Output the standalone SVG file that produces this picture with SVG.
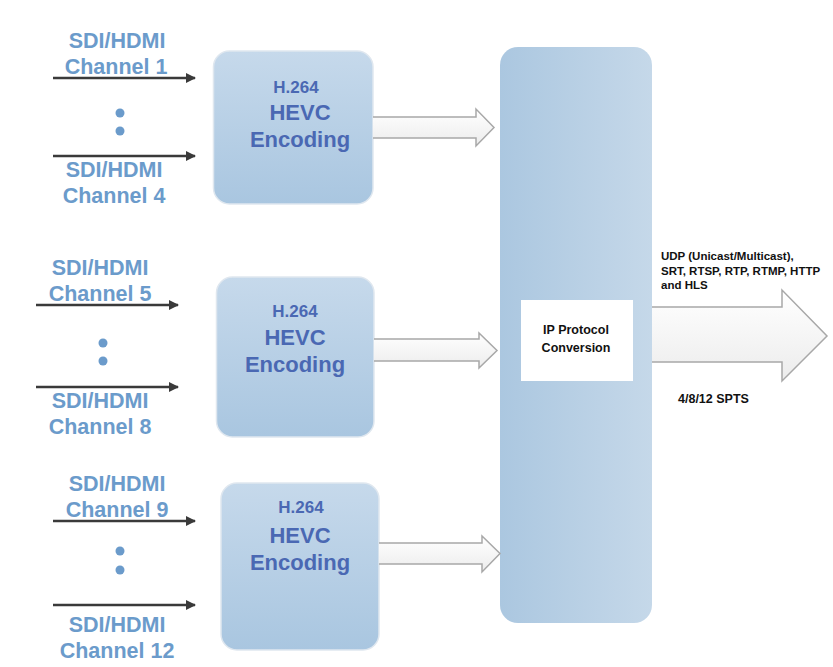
<svg xmlns="http://www.w3.org/2000/svg" width="833" height="667" viewBox="0 0 833 667">
<defs>
<linearGradient id="encGrad" x1="0" y1="0" x2="0" y2="1">
<stop offset="0" stop-color="#c6d9eb"/>
<stop offset="1" stop-color="#a9c6e0"/>
</linearGradient>
<linearGradient id="ipGrad" x1="0" y1="0" x2="1" y2="0">
<stop offset="0" stop-color="#abc7e0"/>
<stop offset="1" stop-color="#c5d8e9"/>
</linearGradient>
<linearGradient id="arrGrad" x1="0" y1="0" x2="0" y2="1">
<stop offset="0" stop-color="#ffffff"/>
<stop offset="1" stop-color="#ececec"/>
</linearGradient>
<marker id="ah" markerWidth="10" markerHeight="10" refX="9" refY="5" orient="auto" markerUnits="userSpaceOnUse">
<path d="M0,0 L10,5 L0,10 Z" fill="#3a3a3a"/>
</marker>
</defs>
<style>
.lbl{font-family:"Liberation Sans",Arial,sans-serif;font-weight:bold;font-size:21.5px;fill:#6b9bcb;text-anchor:middle}
.enc{fill:url(#encGrad);stroke:#dfe7ef;stroke-width:1.5}
.t1{font-family:"Liberation Sans",Arial,sans-serif;font-weight:bold;font-size:17px;fill:#4a68b3;text-anchor:middle}
.t2{font-family:"Liberation Sans",Arial,sans-serif;font-weight:bold;font-size:22px;fill:#4a68b3;text-anchor:middle}
.in{stroke:#3a3a3a;stroke-width:2.5;fill:none;marker-end:url(#ah)}
.dot{fill:#6b9bcb}
.fat{fill:url(#arrGrad);stroke:#a8a8a8;stroke-width:1.5;stroke-linejoin:miter}
.sm{font-family:"Liberation Sans",Arial,sans-serif;font-weight:bold;font-size:11.5px;fill:#111}
.sp{font-family:"Liberation Sans",Arial,sans-serif;font-weight:bold;font-size:12.5px;fill:#111}
.ip{font-family:"Liberation Sans",Arial,sans-serif;font-weight:bold;font-size:12.5px;fill:#111;text-anchor:middle}
</style>
<rect width="833" height="667" fill="#ffffff"/>

<g id="inputs-1">
<text class="lbl" x="117" y="48">SDI/HDMI</text>
<text class="lbl" x="116" y="74">Channel 1</text>
<circle class="dot" cx="120" cy="113" r="4.5"/>
<circle class="dot" cx="120" cy="131" r="4.5"/>
<text class="lbl" x="114" y="177">SDI/HDMI</text>
<text class="lbl" x="114" y="203">Channel 4</text>
</g>
<g id="inputs-2">
<text class="lbl" x="100" y="275">SDI/HDMI</text>
<text class="lbl" x="100" y="301">Channel 5</text>
<circle class="dot" cx="103" cy="343" r="4.5"/>
<circle class="dot" cx="103" cy="361" r="4.5"/>
<text class="lbl" x="100" y="408">SDI/HDMI</text>
<text class="lbl" x="100" y="434">Channel 8</text>
</g>
<g id="inputs-3">
<text class="lbl" x="117" y="491">SDI/HDMI</text>
<text class="lbl" x="117" y="517">Channel 9</text>
<circle class="dot" cx="120" cy="551" r="4.5"/>
<circle class="dot" cx="120" cy="570" r="4.5"/>
<text class="lbl" x="117" y="632">SDI/HDMI</text>
<text class="lbl" x="117" y="658">Channel 12</text>
</g>

<g id="encoder-1">
<rect class="enc" x="213.5" y="51" width="159.5" height="153" rx="16"/>
<text class="t1" x="296" y="93">H.264</text>
<text class="t2" x="300" y="120">HEVC</text>
<text class="t2" x="300" y="147">Encoding</text>
</g>
<g id="encoder-2">
<rect class="enc" x="216.5" y="277" width="157.5" height="160" rx="16"/>
<text class="t1" x="295" y="317">H.264</text>
<text class="t2" x="295" y="345">HEVC</text>
<text class="t2" x="295" y="372">Encoding</text>
</g>
<g id="encoder-3">
<rect class="enc" x="221" y="483" width="158" height="167" rx="16"/>
<text class="t1" x="301" y="513">H.264</text>
<text class="t2" x="300" y="543">HEVC</text>
<text class="t2" x="300" y="570">Encoding</text>
</g>

<g id="ip-processor">
<rect x="500" y="47" width="152" height="576" rx="18" fill="url(#ipGrad)"/>
<rect x="521" y="300" width="112" height="81" fill="#ffffff"/>
<text class="ip" x="576" y="334">IP Protocol</text>
<text class="ip" x="576" y="352">Conversion</text>
</g>

<g id="connectors">
<line class="in" x1="53" y1="78" x2="195" y2="78"/>
<line class="in" x1="53" y1="156" x2="195" y2="156"/>
<line class="in" x1="36" y1="305" x2="178" y2="305"/>
<line class="in" x1="36" y1="387" x2="178" y2="387"/>
<line class="in" x1="53" y1="521" x2="195" y2="521"/>
<line class="in" x1="53" y1="605" x2="195" y2="605"/>
<path class="fat" d="M373,117 L476,117 L476,109 L494,127.5 L476,146 L476,138 L373,138"/>
<path class="fat" d="M374,339 L479,339 L479,333 L497,350.5 L479,368 L479,361 L374,361"/>
<path class="fat" d="M379,543 L482,543 L482,536 L500,553.5 L482,572 L482,564 L379,564"/>
<path class="fat" d="M652,307 L782,307 L782,290 L827,336 L782,381 L782,362 L652,362"/>
</g>

<g id="output-labels">
<text class="sm" x="661" y="260">UDP (Unicast/Multicast),</text>
<text class="sm" x="661" y="275">SRT, RTSP, RTP, RTMP, HTTP</text>
<text class="sm" x="661" y="289">and HLS</text>
<text class="sp" x="678" y="403">4/8/12 SPTS</text>
</g>
</svg>
